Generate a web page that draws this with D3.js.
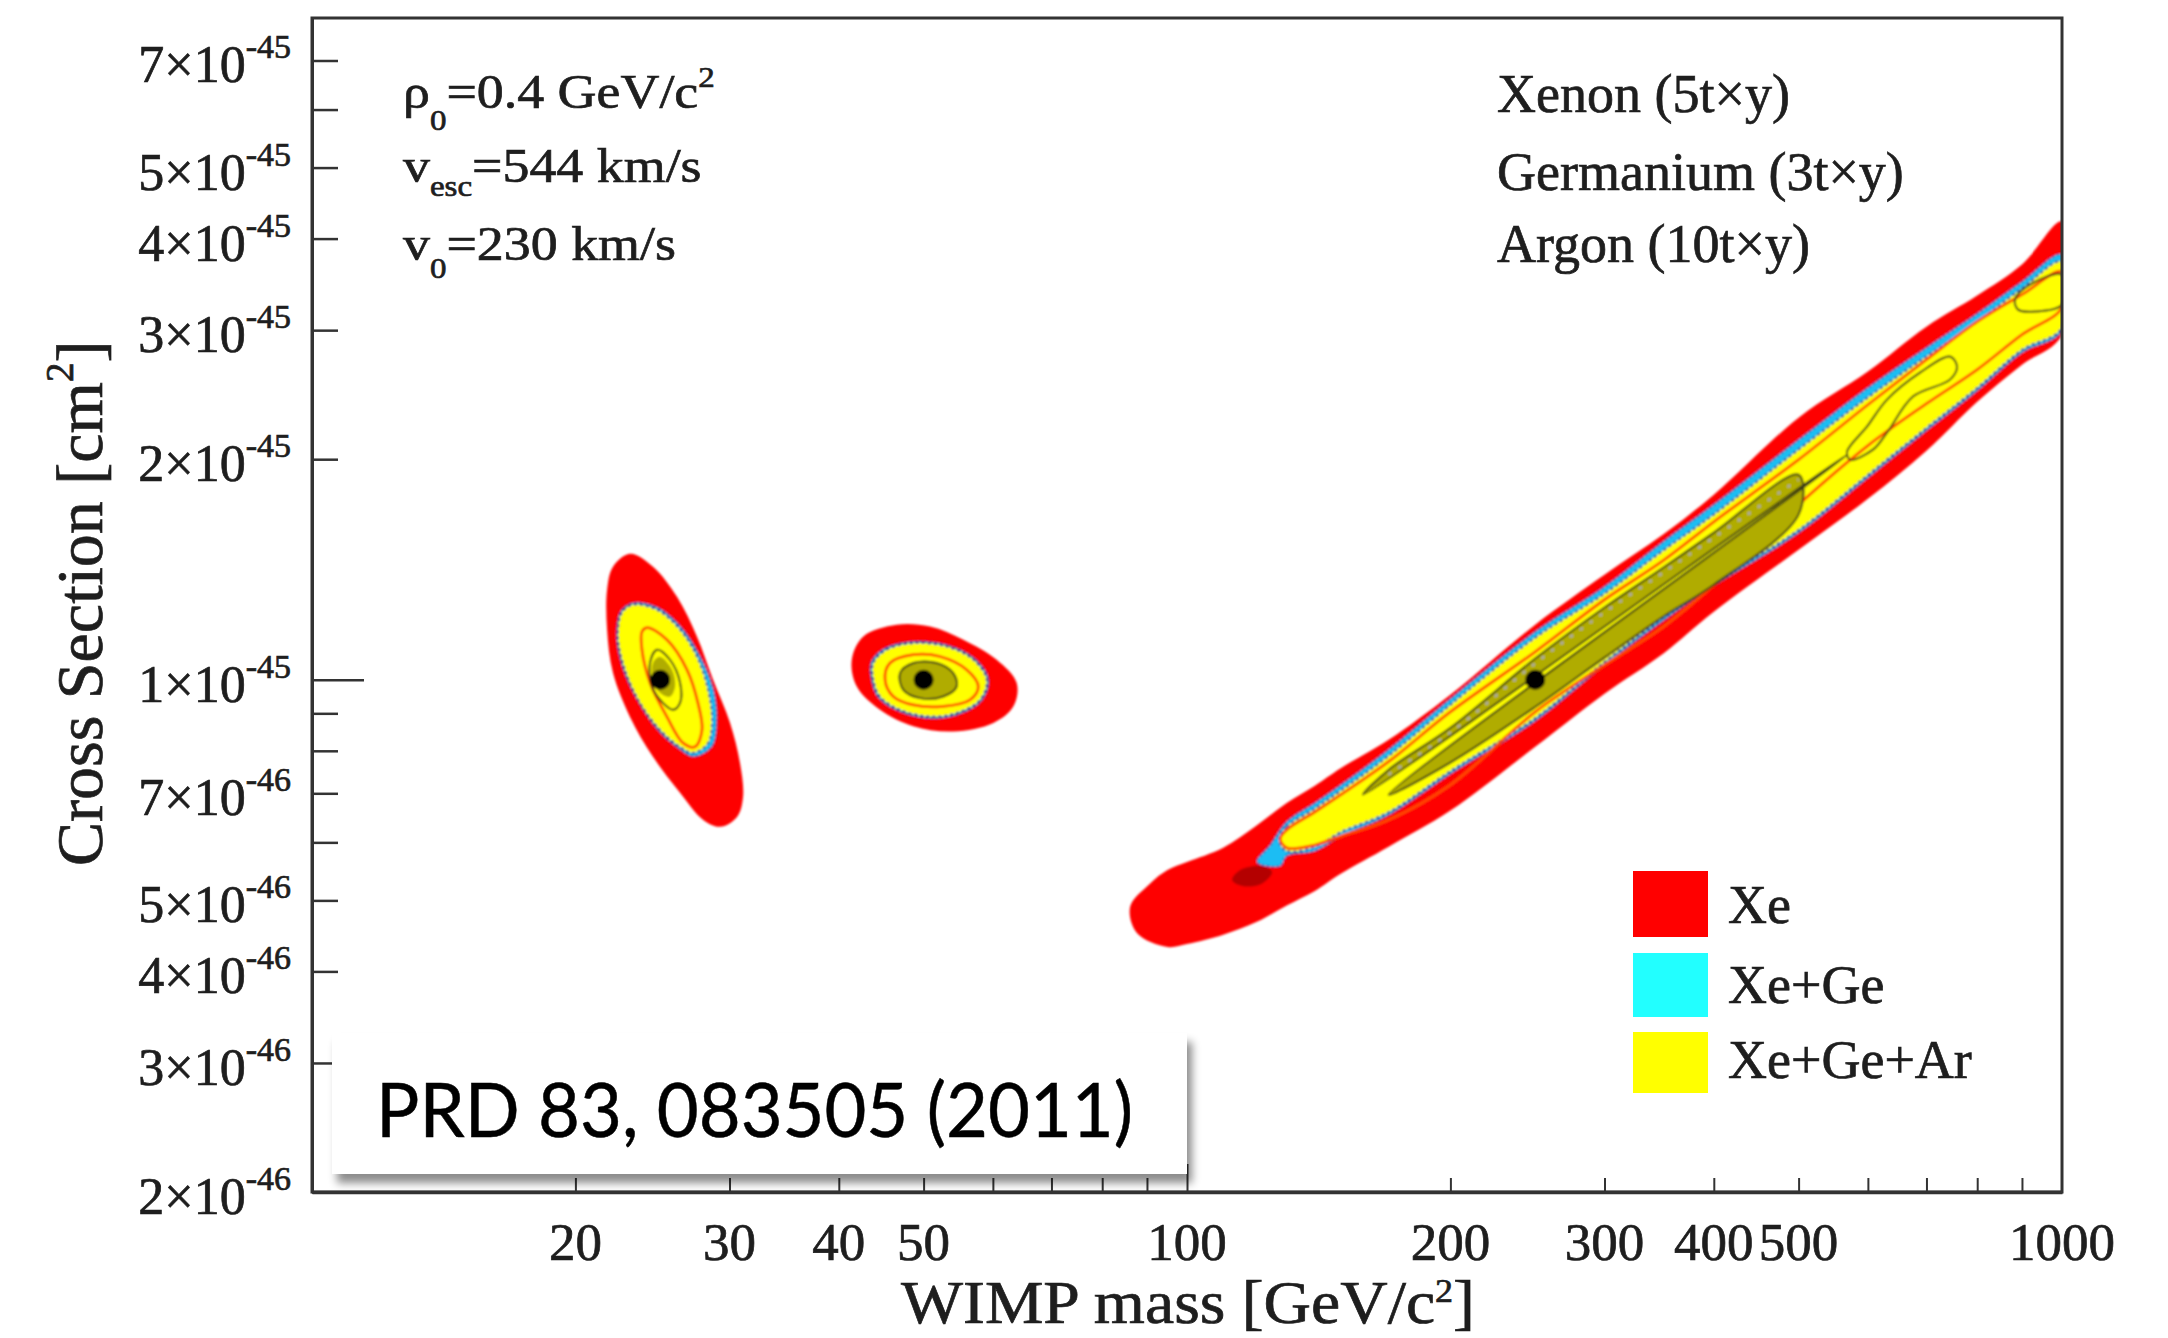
<!DOCTYPE html>
<html><head><meta charset="utf-8">
<script src="https://cdn.jsdelivr.net/npm/d3@7"></script>
<style>
html,body{margin:0;padding:0;background:#fff;}
svg{display:block;}
text{font-family:"Liberation Serif","Times New Roman",serif;fill:#1e1e1e;stroke:#1e1e1e;stroke-width:0.7px;}
</style></head><body>
<svg id="chart" width="2168" height="1338"></svg>
<script>
// ---------------- data (mass in GeV/c^2, cross section in units of 1e-45 cm^2) ----------------
const SIGMA_UNIT = 1e-45;
const benchMass = [25, 50, 250];
const benchSigma = [1, 1, 1];

const xTickValues = [20,30,40,50,60,70,80,90,100,200,300,400,500,600,700,800,900];
const xTickLabels = [20,30,40,50,100,200,300,400,500,1000];
const yTickValues = [2e-46,3e-46,4e-46,5e-46,6e-46,7e-46,8e-46,9e-46,1e-45,2e-45,3e-45,4e-45,5e-45,6e-45,7e-45];
const yLabelValues = [2e-46,3e-46,4e-46,5e-46,7e-46,1e-45,2e-45,3e-45,4e-45,5e-45,7e-45];
const yLabelMant = [2,3,4,5,7,1,2,3,4,5,7];
const yLabelExp = ["-46","-46","-46","-46","-46","-45","-45","-45","-45","-45","-45"];

const legendLabels = ["Xe", "Xe+Ge", "Xe+Ge+Ar"];
const legendColors = ["#ff0000", "#22ffff", "#ffff00"];
const targetLabels = ["Xenon (5t\u00d7y)", "Germanium (3t\u00d7y)", "Argon (10t\u00d7y)"];

// 250 GeV benchmark: band contours (upper / lower edges at given masses)
const xeMass  = [95,100,110,120,130,140,150,170,200,250,300,350,400,500,600,700,800,900,1000];
const xeUpper = [0.550,0.564,0.590,0.632,0.679,0.717,0.758,0.828,0.954,1.189,1.391,1.578,1.789,2.279,2.634,3.033,3.344,3.686,4.221];
const xeLower = [0.432,0.436,0.449,0.467,0.492,0.515,0.544,0.592,0.663,0.810,0.957,1.085,1.238,1.505,1.766,2.054,2.396,2.692,2.958];
const xeTipStart = [[86.1,0.490],[90.7,0.527]];
const xeTipEnd = [[87.7,0.451]];

const comboMass = [130,140,150,170,200,250,300,350,400,500,600,700,800,900,1000];
const xgUpper  = [0.640,0.679,0.719,0.803,0.942,1.163,1.340,1.543,1.734,2.126,2.504,2.839,3.160,3.494,3.804];
const xgLower  = [0.575,0.584,0.612,0.654,0.744,0.879,1.048,1.204,1.344,1.587,1.887,2.188,2.480,2.795,2.995];
const xgTipStart = [[120.2,0.564],[124.5,0.595]];
const xgTipEnd = [[127.7,0.557]];
const xgaUpper = [0.630,0.667,0.706,0.787,0.924,1.141,1.310,1.500,1.680,2.061,2.427,2.761,3.081,3.419,3.721];
const xgaLower = [0.584,0.592,0.620,0.660,0.751,0.887,1.058,1.215,1.357,1.602,1.905,2.208,2.504,2.821,3.023];
const xgaTip = [[127.4,0.605]];
const xe1Upper = [0.624,0.660,0.697,0.773,0.904,1.092,1.286,1.454,1.643,1.997,2.373,2.734,3.081,3.354,3.606];
const xe1Lower = [0.590,0.595,0.612,0.644,0.719,0.904,1.048,1.181,1.348,1.734,2.087,2.381,2.650,2.958,3.220];
const xe1Tip = [[127.8,0.607]];

const innerMass  = [170,200,250,300,350,400,500];
const innerUpper = [0.754,0.860,1.069,1.255,1.422,1.588,1.905];
const innerLower = [0.697,0.771,0.918,1.072,1.219,1.348,1.680];
const innerTipStart = [[158.9,0.697]];
const innerTipEnd = [[568,2.028]];
const innerLoop250 = [[568,2.048],[598.5,2.215],[631,2.412],[688.2,2.625],[744.7,2.761],[758.6,2.675],[744.7,2.568],[675.6,2.435],[631,2.174],[608.1,2.061],[572.4,1.997]];
const islandEdge250 = [[883.7,3.303],[919.3,3.461],[1000,3.572],[1000,3.250],[931.5,3.180],[890.7,3.200]];
const darkSpot250 = [[112.6,0.533],[115.0,0.550],[121.8,0.557],[125.1,0.547],[121.8,0.527],[115.6,0.523]];

// 25 GeV benchmark contours
const xe25  = [[23.09,1.486],[24.53,1.427],[26.13,1.298],[27.54,1.145],[28.73,1.000],[30.04,0.874],[30.84,0.770],[31.09,0.692],[30.60,0.650],[29.26,0.630],[27.98,0.644],[26.34,0.701],[24.53,0.785],[23.09,0.890],[22.08,1.022],[21.74,1.170],[21.74,1.327],[22.08,1.427]];
const xg25  = [[23.30,1.273],[24.87,1.253],[26.46,1.176],[27.76,1.076],[28.75,0.969],[29.00,0.882],[28.63,0.811],[27.27,0.786],[26.22,0.807],[24.90,0.852],[23.65,0.930],[22.70,1.032],[22.30,1.145],[22.55,1.240]];
const xga25 = [[23.28,1.266],[24.79,1.246],[26.34,1.170],[27.54,1.075],[28.35,0.969],[28.65,0.882],[28.35,0.820],[27.25,0.795],[26.34,0.810],[24.98,0.855],[23.71,0.930],[22.79,1.032],[22.37,1.145],[22.61,1.235]];
const xe1_25 = [[24.15,1.178],[25.45,1.134],[26.83,1.032],[27.61,0.930],[27.91,0.855],[27.40,0.810],[26.55,0.820],[25.45,0.890],[24.34,0.991],[23.83,1.099],[23.83,1.163]];
const inner25 = [[24.98,1.075],[25.79,1.032],[26.00,0.978],[25.65,0.948],[24.98,0.960],[24.53,1.000],[24.53,1.055]];
const loop25 = [[24.79,1.099],[25.65,1.065],[26.34,0.991],[26.34,0.930],[25.86,0.910],[25.18,0.930],[24.47,0.978],[24.34,1.055]];

// 50 GeV benchmark contours
const xe50  = [[41.39,1.065],[42.67,1.146],[46.59,1.189],[50.85,1.182],[55.50,1.134],[60.60,1.065],[63.88,0.990],[63.33,0.920],[60.07,0.873],[54.06,0.850],[48.67,0.864],[44.58,0.910],[41.94,0.979]];
const xg50  = [[43.6,1.058],[45.2,1.104],[48.6,1.127],[53.2,1.115],[57.2,1.068],[59.3,1.000],[58.2,0.936],[54.6,0.896],[50.85,0.886],[46.9,0.906],[44.4,0.946],[43.6,1.000]];
const xga50 = [[43.81,1.054],[45.38,1.099],[48.67,1.122],[53.13,1.110],[56.99,1.065],[59.03,1.000],[57.99,0.939],[54.55,0.901],[50.85,0.891],[46.99,0.910],[44.58,0.949],[43.81,1.000]];
const xe1_50 = [[45.77,1.054],[48.67,1.082],[52.20,1.076],[56.00,1.032],[57.74,0.979],[56.49,0.939],[52.66,0.920],[48.67,0.924],[46.17,0.949],[45.18,1.000]];
const inner50 = [[46.99,1.021],[48.67,1.054],[51.75,1.054],[54.06,1.021],[54.55,0.979],[52.66,0.949],[49.54,0.944],[47.40,0.969]];

// ---------------- drawing ----------------
const svg = d3.select("#chart");
const W = 2168, H = 1338;
svg.append("rect").attr("width", W).attr("height", H).attr("fill", "#fff");

const x = d3.scaleLog().domain([10, 1000]).range([312, 2062]);
const y = d3.scaleLog().domain([2e-46, 8e-45]).range([1192, 18]);

const defs = svg.append("defs");
defs.append("clipPath").attr("id", "plotclip").append("rect")
  .attr("x", x(10)).attr("y", y(8e-45)).attr("width", x(1000) - x(10)).attr("height", y(2e-46) - y(8e-45));
const soft = defs.append("filter").attr("id", "soft").attr("x", "-5%").attr("y", "-5%").attr("width", "110%").attr("height", "110%");
soft.append("feGaussianBlur").attr("stdDeviation", 1.1);
const shadow = defs.append("filter").attr("id", "shadow").attr("x", "-5%").attr("y", "-20%").attr("width", "115%").attr("height", "150%");
shadow.append("feDropShadow").attr("dx", 5).attr("dy", 9).attr("stdDeviation", 4)
  .attr("flood-color", "#000").attr("flood-opacity", 0.45);

const closed = d3.line()
  .x(d => x(d[0])).y(d => y(d[1] * SIGMA_UNIT))
  .curve(d3.curveCatmullRomClosed.alpha(0.5));
const open = d3.line()
  .x(d => x(d[0])).y(d => y(d[1] * SIGMA_UNIT))
  .curve(d3.curveCatmullRom.alpha(0.5));

function band(mass, upper, lower, start, end) {
  const up = mass.map((m, i) => [m, upper[i]]);
  const lo = mass.map((m, i) => [m, lower[i]]).reverse();
  return [...start, ...up, ...lo, ...end];
}

const plot = svg.append("g").attr("clip-path", "url(#plotclip)");
const g = plot.append("g").attr("filter", "url(#soft)");

const RED = "#fe0000", CYAN = "#1fbdf3", YEL = "#ffff00", OLIVE = "#b0ac00",
      LINE1 = "#ff4a00", DARK = "#3b3a12", DOTS = "#34309a";

function fillShape(pts, fill, stroke, sw, dash) {
  const p = g.append("path").attr("d", closed(pts)).attr("fill", fill);
  if (stroke) p.attr("stroke", stroke).attr("stroke-width", sw || 2);
  if (dash) p.attr("stroke-dasharray", dash);
  return p;
}
function lineShape(pts, stroke, sw, dash) {
  const p = g.append("path").attr("d", closed(pts)).attr("fill", "none")
    .attr("stroke", stroke).attr("stroke-width", sw);
  if (dash) p.attr("stroke-dasharray", dash);
  return p;
}

// Xe (outer, red)
fillShape(band(xeMass, xeUpper, xeLower, xeTipStart, xeTipEnd), RED);
fillShape(xe25, RED);
fillShape(xe50, RED);
fillShape(darkSpot250, "#b40000");

// Xe+Ge (cyan)
fillShape(band(comboMass, xgUpper, xgLower, xgTipStart, xgTipEnd), CYAN, DOTS, 1.5, "3,2");
fillShape(xg25, CYAN, DOTS, 1.5, "3,2");
fillShape(xg50, CYAN, DOTS, 1.5, "3,2");

// Xe+Ge+Ar (yellow)
fillShape(band(comboMass, xgaUpper, xgaLower, xgaTip, []), YEL, DOTS, 2, "3,3");
fillShape(xga25, YEL, DOTS, 2, "3,3");
fillShape(xga50, YEL, DOTS, 2, "3,3");

// Xe inner contour line (orange-red)
lineShape(band(comboMass, xe1Upper, xe1Lower, xe1Tip, []), LINE1, 2.8);
lineShape(xe1_25, LINE1, 2.8);
lineShape(xe1_50, LINE1, 2.8);

// inner combined region (olive) with dark outline
fillShape(band(innerMass, innerUpper, innerLower, innerTipStart, innerTipEnd), OLIVE, DARK, 2);
g.append("path").attr("d", open(innerMass.map((m, i) => [m, innerUpper[i] * 0.985])))
  .attr("fill", "none").attr("stroke", "#a9a9c8").attr("stroke-width", 2).attr("stroke-dasharray", "3,9");
lineShape(innerLoop250, DARK, 2);
lineShape(islandEdge250, DARK, 2);
fillShape(inner25, OLIVE);
lineShape(loop25, DARK, 2);
fillShape(inner50, OLIVE, DARK, 2);

// benchmark points
g.selectAll("circle.bench").data(benchMass).join("circle").attr("class", "bench")
  .attr("cx", (d) => x(d)).attr("cy", (d, i) => y(benchSigma[i] * SIGMA_UNIT))
  .attr("r", 10).attr("fill", "#000");

// ---------------- axes ----------------
const axisColor = "#333";
const yAxis = svg.append("g").attr("transform", `translate(${x(10)},0)`)
  .call(d3.axisLeft(y).tickValues(yTickValues).tickSize(-26).tickSizeOuter(0).tickFormat(() => ""));
yAxis.selectAll(".tick line").attr("stroke", axisColor).attr("stroke-width", 2.5)
  .filter(d => Math.abs(d - 1e-45) < 1e-50).attr("x2", 52);
yAxis.select(".domain").attr("stroke", axisColor).attr("stroke-width", 3);
yAxis.selectAll(".tick text").remove();

const xAxis = svg.append("g").attr("transform", `translate(0,${y(2e-46)})`)
  .call(d3.axisBottom(x).tickValues(xTickValues).tickSize(-14).tickSizeOuter(0).tickFormat(() => ""));
xAxis.selectAll(".tick line").attr("stroke", axisColor).attr("stroke-width", 2)
  .filter(d => d === 100).attr("y2", -28);
xAxis.select(".domain").attr("stroke", axisColor).attr("stroke-width", 3.5);
xAxis.selectAll(".tick text").remove();

// frame (top and right)
svg.append("rect").attr("x", x(10)).attr("y", y(8e-45))
  .attr("width", x(1000) - x(10)).attr("height", y(2e-46) - y(8e-45))
  .attr("fill", "none").attr("stroke", axisColor).attr("stroke-width", 3);

// y tick labels
yLabelValues.forEach((v, i) => {
  const t = svg.append("text").attr("x", 291).attr("y", y(v) + 22)
    .attr("text-anchor", "end").attr("font-size", 52);
  t.append("tspan").text(yLabelMant[i] + "\u00d710");
  t.append("tspan").attr("font-size", 34).attr("dy", -24).text(yLabelExp[i]);
});

// x tick labels
svg.selectAll("text.xl").data(xTickLabels).join("text").attr("class", "xl")
  .attr("x", d => x(d)).attr("y", 1260).attr("text-anchor", "middle")
  .attr("font-size", 53).text(d => d);

// axis titles
const xtg = svg.append("g").attr("transform", "translate(901,1323) scale(1.06,1)");
const xt = xtg.append("text").attr("x", 0).attr("y", 0).attr("font-size", 62);
xt.append("tspan").text("WIMP mass [GeV/c");
xt.append("tspan").attr("font-size", 34).attr("dy", -21).text("2");
xt.append("tspan").attr("dy", 21).text("]");

const yt = svg.append("text").attr("transform", "translate(102,866) rotate(-90)").attr("font-size", 66);
yt.append("tspan").text("Cross Section [cm");
yt.append("tspan").attr("font-size", 39).attr("dy", -29).text("2");
yt.append("tspan").attr("dy", 29).text("]");

// halo parameters (top-left)
const par = svg.append("g").attr("transform", "translate(403,0) scale(1.1,1)");
const p1 = par.append("text").attr("x", 0).attr("y", 108).attr("font-size", 49);
p1.append("tspan").text("\u03c1");
p1.append("tspan").attr("font-size", 30).attr("dy", 22).text("0");
p1.append("tspan").attr("dy", -22).text("=0.4 GeV/c");
p1.append("tspan").attr("font-size", 30).attr("dy", -21).text("2");
const p2 = par.append("text").attr("x", 0).attr("y", 182).attr("font-size", 49);
p2.append("tspan").text("v");
p2.append("tspan").attr("font-size", 30).attr("dy", 14).text("esc");
p2.append("tspan").attr("dy", -14).text("=544 km/s");
const p3 = par.append("text").attr("x", 0).attr("y", 260).attr("font-size", 49);
p3.append("tspan").text("v");
p3.append("tspan").attr("font-size", 30).attr("dy", 18).text("0");
p3.append("tspan").attr("dy", -18).text("=230 km/s");

// target exposures (top-right)
svg.selectAll("text.tgt").data(targetLabels).join("text").attr("class", "tgt")
  .attr("x", 1497).attr("y", (d, i) => [112, 190, 262][i])
  .attr("font-size", 54).text(d => d);

// legend
const lg = svg.append("g");
const legY = [871, 953, 1032];
const legH = [66, 64, 61];
legendLabels.forEach((lab, i) => {
  lg.append("rect").attr("x", 1633).attr("y", legY[i]).attr("width", 75).attr("height", legH[i])
    .attr("fill", legendColors[i]);
  lg.append("text").attr("x", 1728).attr("y", [923, 1003, 1078][i]).attr("font-size", 54).text(lab);
});

// reference box
svg.append("rect").attr("x", 332).attr("y", 1033).attr("width", 855).attr("height", 141)
  .attr("fill", "#fff").attr("filter", "url(#shadow)");
svg.append("text").attr("x", 376).attr("y", 1137)
  .style("font-family", "Lato, 'Open Sans', sans-serif")
  .attr("font-size", 76).style("fill", "#000").style("stroke", "#000").style("stroke-width", "0.5px")
  .attr("textLength", 757).attr("lengthAdjust", "spacingAndGlyphs")
  .text("PRD 83, 083505 (2011)");
</script>
</body></html>
